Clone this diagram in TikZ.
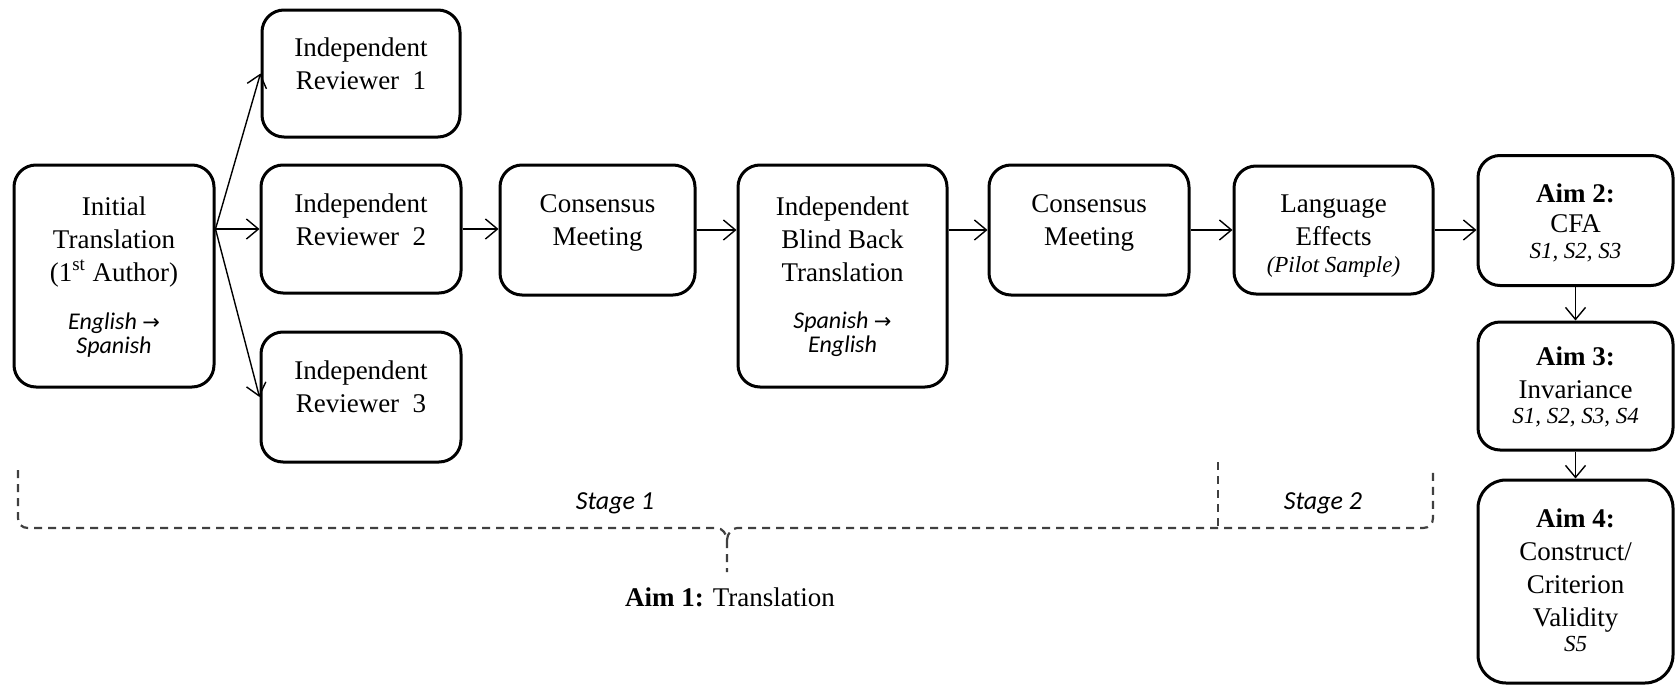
\documentclass[tikz,border=0pt]{standalone}
\usepackage{fontspec}
\setmainfont{Liberation Serif}
\newfontfamily\calfont{Carlito}
\newfontfamily\symfont{DejaVu Sans}
\usetikzlibrary{arrows.meta}
\newcommand{\boxbody}[4]{\parbox[c][#2][t]{#1}{\centering\rule{0pt}{#3}#4}}
\newcommand{\rarr}{{\symfont\fontsize{10.5}{10}\selectfont →}}
\newcommand{\smallit}{\calfont\itshape\fontsize{12}{12}\selectfont}
\newcommand{\timit}{\itshape\fontsize{11.5}{12}\selectfont}
\begin{document}
\begin{tikzpicture}[x=0.5pt,y=-0.5pt,
  box/.style={draw, line width=1.5pt, rounded corners=11pt, inner sep=0pt, font=\fontsize{13.5}{16.5}\selectfont},
  arr/.style={line width=0.7pt, -{Straight Barb[length=6pt,width=10pt,line width=0.7pt]}},
  dashline/.style={draw=black!75, line width=1.1pt, dash pattern=on 4pt off 3pt},
  note/.style={inner sep=0pt}]
\useasboundingbox (0,0) rectangle (1676,685);

\node[box] (init) at (114,276) {\boxbody{100pt}{111pt}{25pt}{Initial\\Translation\\(1\textsuperscript{st} Author)\\[7.5pt]{\smallit English \rarr}\\[-4.5pt]{\smallit Spanish}}};
\node[box] (rev1) at (361,73.5) {\boxbody{99pt}{63.5pt}{23pt}{Independent\\Reviewer\ \ 1}};
\node[box] (rev2) at (361,229) {\boxbody{100pt}{64pt}{23.5pt}{Independent\\Reviewer\ \ 2}};
\node[box] (rev3) at (361,397) {\boxbody{100pt}{65pt}{23.5pt}{Independent\\Reviewer\ \ 3}};
\node[box] (cons1) at (597.5,230) {\boxbody{97.5pt}{65pt}{23.5pt}{Consensus\\Meeting}};
\node[box] (blind) at (842.5,276) {\boxbody{104.5pt}{111pt}{25pt}{Independent\\Blind Back\\Translation\\[7pt]{\smallit Spanish \rarr}\\[-4.5pt]{\smallit English}}};
\node[box] (cons2) at (1089,230) {\boxbody{100pt}{65pt}{23.5pt}{Consensus\\Meeting}};
\node[box] (lang) at (1333.5,230) {\boxbody{99.5pt}{64pt}{23pt}{Language\\Effects\\[-3pt]{\timit (Pilot Sample)}}};
\node[box] (aim2) at (1575.5,220.5) {\boxbody{97.5pt}{65pt}{23.5pt}{\textbf{Aim 2:}\\[-1.5pt]CFA\\[-3.5pt]{\timit S1, S2, S3}}};
\node[box] (aim3) at (1575.5,386) {\boxbody{97.5pt}{64pt}{21.5pt}{\textbf{Aim 3:}\\Invariance\\[-4pt]{\timit S1, S2, S3, S4}}};
\node[box, rounded corners=14pt] (aim4) at (1575.5,581.5) {\boxbody{97.5pt}{101.5pt}{23.5pt}{\textbf{Aim 4:}\\Construct/\\Criterion\\Validity\\[-4pt]{\timit S5}}};

\coordinate (fan) at (init.east |- rev2.west);
\draw[arr] (fan) -- (rev1.west);
\draw[arr] (fan) -- (rev2.west);
\draw[arr] (fan) -- (rev3.west);
\draw[arr] (rev2.east) -- (rev2.east -| cons1.west);
\draw[arr] (cons1.east) -- (cons1.east -| blind.west);
\draw[arr] (blind.east |- cons2.west) -- (cons2.west);
\draw[arr] (cons2.east) -- (lang.west);
\draw[arr] (lang.east) -- (lang.east -| aim2.west);
\draw[arr] (aim2.south) -- (aim3.north);
\draw[arr] (aim3.south) -- (aim4.north);

\coordinate (bl) at (18,470);
\coordinate (bm) at (727,540);
\coordinate (bt) at (727,572);
\coordinate (br) at (1433,470);
\coordinate (sep) at (1218,462);
\coordinate (sepb) at (1218,528);
\draw[dashline] (bl) -- (18,518) .. controls (18,524) and (22,528) .. (28,528) -- (717,528) .. controls (722,528) and (727,534) .. (bm) -- (bt);
\draw[dashline] (bm) .. controls (727,534) and (732,528) .. (737,528) -- (1423,528) .. controls (1429,528) and (1433,524) .. (1433,518) -- (br);
\draw[dashline] (sep) -- (sepb);

\node[note, font=\calfont\itshape\fontsize{13}{13}\selectfont] (st1) at (615,503) {Stage 1};
\node[note, font=\calfont\itshape\fontsize{13}{13}\selectfont] (st2) at (1323,503) {Stage 2};
\node[note, font=\fontsize{13.5}{14}\selectfont] (aim1) at (730,597) {\textbf{Aim 1:} Translation};
\end{tikzpicture}
\end{document}
